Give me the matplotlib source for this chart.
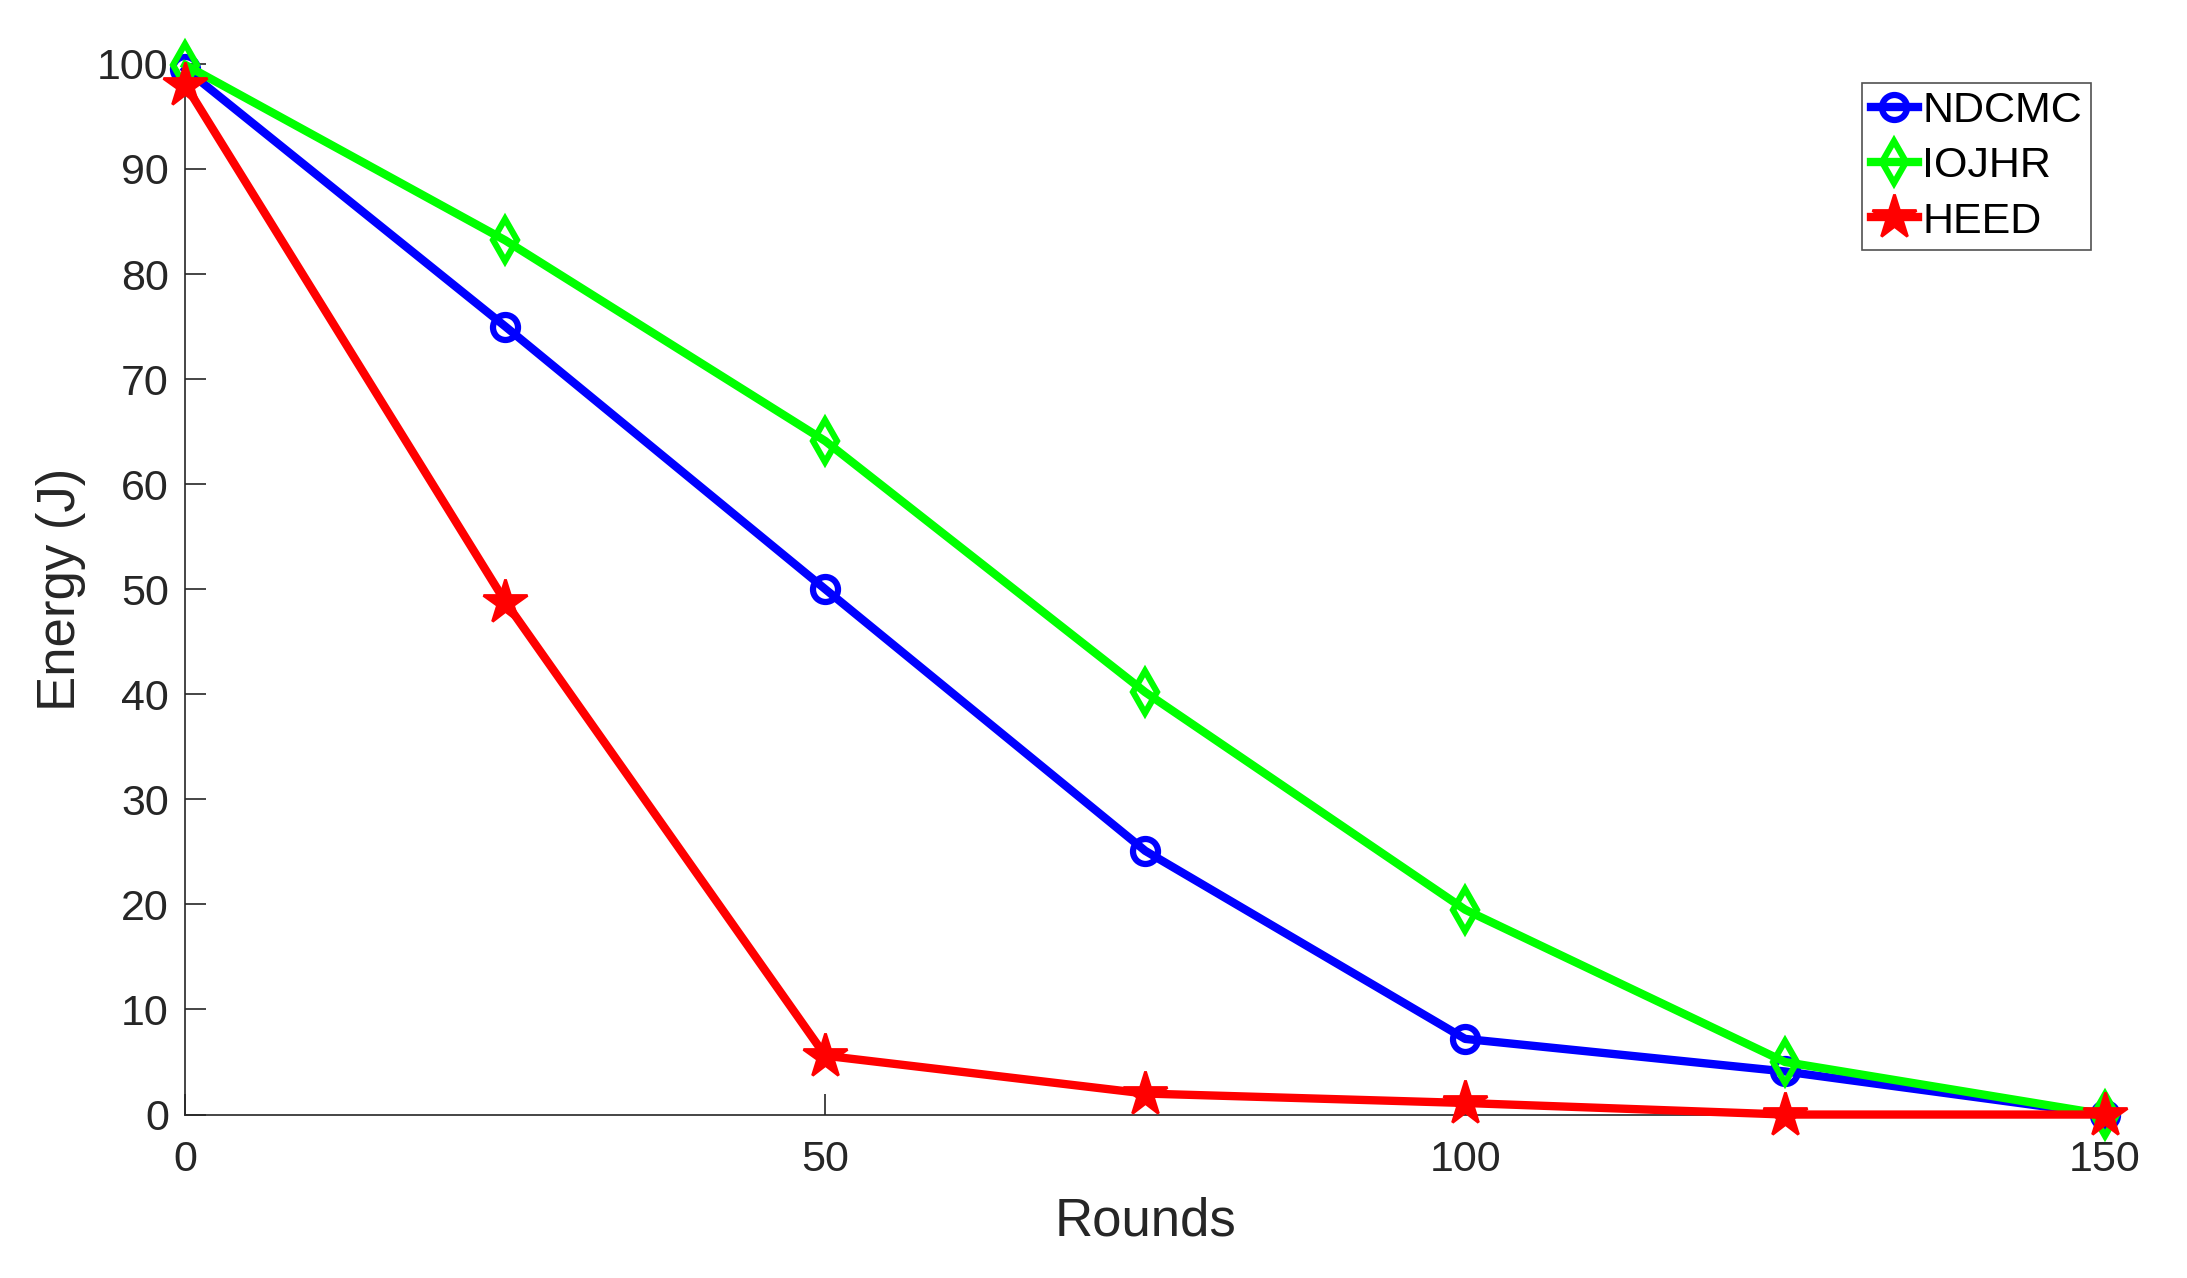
import matplotlib
matplotlib.use("Agg")
import matplotlib.pyplot as plt

plt.rcParams['font.family'] = ['Liberation Sans', 'DejaVu Sans']

rounds = [0, 25, 50, 75, 100, 125, 150]
ndcmc = [99.5, 75.0, 50.0, 25.1, 7.2, 4.1, 0.0]
iojhr = [99.9, 83.2, 64.1, 40.2, 19.5, 5.0, 0.0]
heed = [98.0, 48.8, 5.6, 2.0, 1.1, 0.0, 0.0]

fig = plt.figure(figsize=(21.87, 12.78), dpi=100)
ax = fig.add_axes([0.0848, 0.1279, 0.8777, 0.8221])

ax.plot(rounds, ndcmc, '-o', color=(0, 0, 1), lw=6, ms=18, mew=4.5,
        mfc='none', label='NDCMC', clip_on=False)
ax.plot(rounds, iojhr, '-d', color=(0, 1, 0), lw=6, ms=21, mew=4.5,
        mfc='none', label='IOJHR', clip_on=False)
ax.plot(rounds, heed, '-*', color=(1, 0, 0), lw=6, ms=33, mew=2,
        label='HEED', clip_on=False)

ax.set_xlim(0, 150)
ax.set_ylim(0, 100)
ax.set_xticks([0, 50, 100, 150])
ax.set_yticks(range(0, 101, 10))
for side in ['top', 'right']:
    ax.spines[side].set_visible(False)
for side in ['left', 'bottom']:
    ax.spines[side].set_color('#262626')
    ax.spines[side].set_linewidth(1.2)
    ax.spines[side].set_zorder(0.5)
ax.tick_params(direction='in', length=15, width=1.2, colors='#262626',
               labelsize=31, labelcolor='#262626')
ax.tick_params(axis='x', pad=18)
ax.tick_params(axis='y', pad=12)

ax.set_xlabel('Rounds', fontsize=38, color='#262626', labelpad=12)
ax.set_ylabel('Energy (J)', fontsize=38, color='#262626', labelpad=8)

leg = ax.legend(loc='upper right', bbox_to_anchor=(0.9925, 0.982),
                fontsize=31, frameon=True, fancybox=False,
                handlelength=1.1, handletextpad=0.1, borderpad=0.2,
                labelspacing=0.35, borderaxespad=0)
leg.get_frame().set_edgecolor('#262626')
leg.get_frame().set_linewidth(1.2)

fig.savefig('out.png', dpi=100)
